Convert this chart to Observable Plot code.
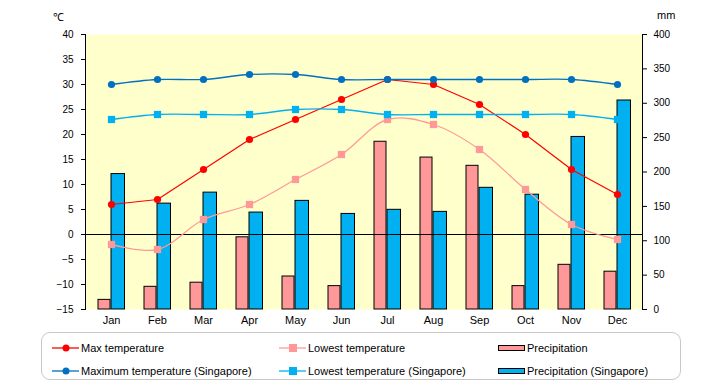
<!DOCTYPE html>
<html><head><meta charset="utf-8">
<script src="https://cdn.jsdelivr.net/npm/d3@7"></script>
<script src="https://cdn.jsdelivr.net/npm/@observablehq/plot@0.6"></script>
<style>
body{margin:0;background:#fff;font-family:"Liberation Sans",Arial,sans-serif;}
#wrap{position:relative;width:720px;height:385px;overflow:hidden;}
#wrap svg{display:block;}
.unit{position:absolute;font-size:11px;color:#000;}
#legend{position:absolute;left:41px;top:332px;width:640px;height:48px;border:1.5px solid #c8c8c8;border-radius:9px;box-sizing:border-box;}
.li{position:absolute;font-size:11px;color:#000;white-space:nowrap;display:flex;align-items:center;height:14px;}
.li svg{margin-right:2px;}
</style></head><body><div id="wrap"></div>
<script>
const months = ["Jan","Feb","Mar","Apr","May","Jun","Jul","Aug","Sep","Oct","Nov","Dec"];
const maxTemp = [6,7,13,19,23,27,31,30,26,20,13,8];
const minTemp = [-2,-3,3,6,11,16,23,22,17,9,2,-1];
const precip = [14,33,39,105,48,34,244,221,209,34,65,55];
const sgMax = [30,31,31,32,32,31,31,31,31,31,31,30];
const sgMin = [23,24,24,24,25,25,24,24,24,24,24,23];
const sgPrecip = [197,154,170,141,158,139,145,142,177,167,251,304];
const tempTicks = [-15,-10,-5,0,5,10,15,20,25,30,35,40];
const mmTicks = [0,50,100,150,200,250,300,350,400];

const RED="#FF0000", PINK="#FF9999", DBLUE="#0070C0", LBLUE="#00B0F0";
const toT = mm => -15 + mm*55/400;
const rows = months.map((m,i)=>({m, maxT:maxTemp[i], minT:minTemp[i], p:precip[i], sMax:sgMax[i], sMin:sgMin[i], sp:sgPrecip[i]}));

const chart = Plot.plot({
  width:720, height:330, marginLeft:85, marginRight:78, marginTop:34, marginBottom:21,
  style:{fontFamily:'"Liberation Sans",Arial,sans-serif', fontSize:"11px", color:"#000", background:"transparent", overflow:"visible"},
  x:{type:"band", domain:months, padding:0, axis:null},
  y:{domain:[-15,40], axis:null},
  marks:[
    Plot.frame({fill:"#FFFFCC", stroke:null}),
    Plot.barY(rows,{x:"m", y1:()=>-15, y2:d=>toT(d.p), fill:PINK, stroke:"#000", strokeWidth:1, insetLeft:10, insetRight:24}),
    Plot.barY(rows,{x:"m", y1:()=>-15, y2:d=>toT(d.sp), fill:LBLUE, stroke:"#000", strokeWidth:1, insetLeft:23, insetRight:9.5}),
    Plot.ruleY([0],{stroke:"#000", strokeWidth:1}),
    Plot.line(rows,{x:"m", y:"minT", stroke:PINK, strokeWidth:1.3, curve:"catmull-rom"}),
    Plot.line(rows,{x:"m", y:"maxT", stroke:RED, strokeWidth:1.2}),
    Plot.line(rows,{x:"m", y:"sMin", stroke:LBLUE, strokeWidth:1.3, curve:"catmull-rom"}),
    Plot.line(rows,{x:"m", y:"sMax", stroke:DBLUE, strokeWidth:1.3, curve:"catmull-rom"}),
    Plot.dot(rows,{x:"m", y:"minT", symbol:"square", r:4.1, fill:PINK}),
    Plot.dot(rows,{x:"m", y:"maxT", symbol:"circle", r:3.6, fill:RED}),
    Plot.dot(rows,{x:"m", y:"sMin", symbol:"square", r:4.1, fill:LBLUE}),
    Plot.dot(rows,{x:"m", y:"sMax", symbol:"circle", r:3.6, fill:DBLUE}),
    Plot.axisX({tickSize:0, tickPadding:7, fontSize:11, label:null}),
    Plot.axisY(tempTicks,{anchor:"left", tickSize:4, tickPadding:8, fontSize:10, label:null}),
    Plot.axisY(mmTicks.map(toT),{anchor:"right", tickSize:4, tickPadding:7, fontSize:10, label:null, tickFormat:d=>String(Math.round((d+15)*400/55))}),
    Plot.frame({anchor:"left", stroke:"#000"}),
    Plot.frame({anchor:"right", stroke:"#000"})
  ]
});
const wrap = document.getElementById("wrap");
wrap.appendChild(chart);

function addSpan(cls, text, left, top){
  const s=document.createElement("span"); s.className=cls; s.textContent=text;
  s.style.left=left+"px"; s.style.top=top+"px"; wrap.appendChild(s); return s;
}
addSpan("unit","℃",53,9);
addSpan("unit","mm",657,9);

const legend=document.createElement("div"); legend.id="legend"; wrap.appendChild(legend);
function sw(kind,color){
  if(kind==="bar") return `<svg width="27" height="10"><rect x="0.5" y="2.5" width="26" height="5" fill="${color}" stroke="#000"/></svg>`;
  const mk = kind==="circle" ? `<circle cx="14" cy="5" r="3.5" fill="${color}"/>` : `<rect x="10" y="1" width="8" height="8" fill="${color}"/>`;
  return `<svg width="27" height="10"><line x1="0" y1="5" x2="27" y2="5" stroke="${color}" stroke-width="1.3"/>${mk}</svg>`;
}
const items=[
  ["circle",RED,"Max temperature",52,348],
  ["square",PINK,"Lowest temperature",279,348],
  ["bar",PINK,"Precipitation",498,348],
  ["circle",DBLUE,"Maximum temperature (Singapore)",52,371],
  ["square",LBLUE,"Lowest temperature (Singapore)",279,371],
  ["bar",LBLUE,"Precipitation (Singapore)",498,371]
];
for(const [k,c,t,x,y] of items){
  const d=document.createElement("div"); d.className="li";
  d.style.left=x+"px"; d.style.top=(y-7)+"px";
  d.innerHTML=sw(k,c)+`<span>${t}</span>`;
  wrap.appendChild(d);
}
</script></body></html>
